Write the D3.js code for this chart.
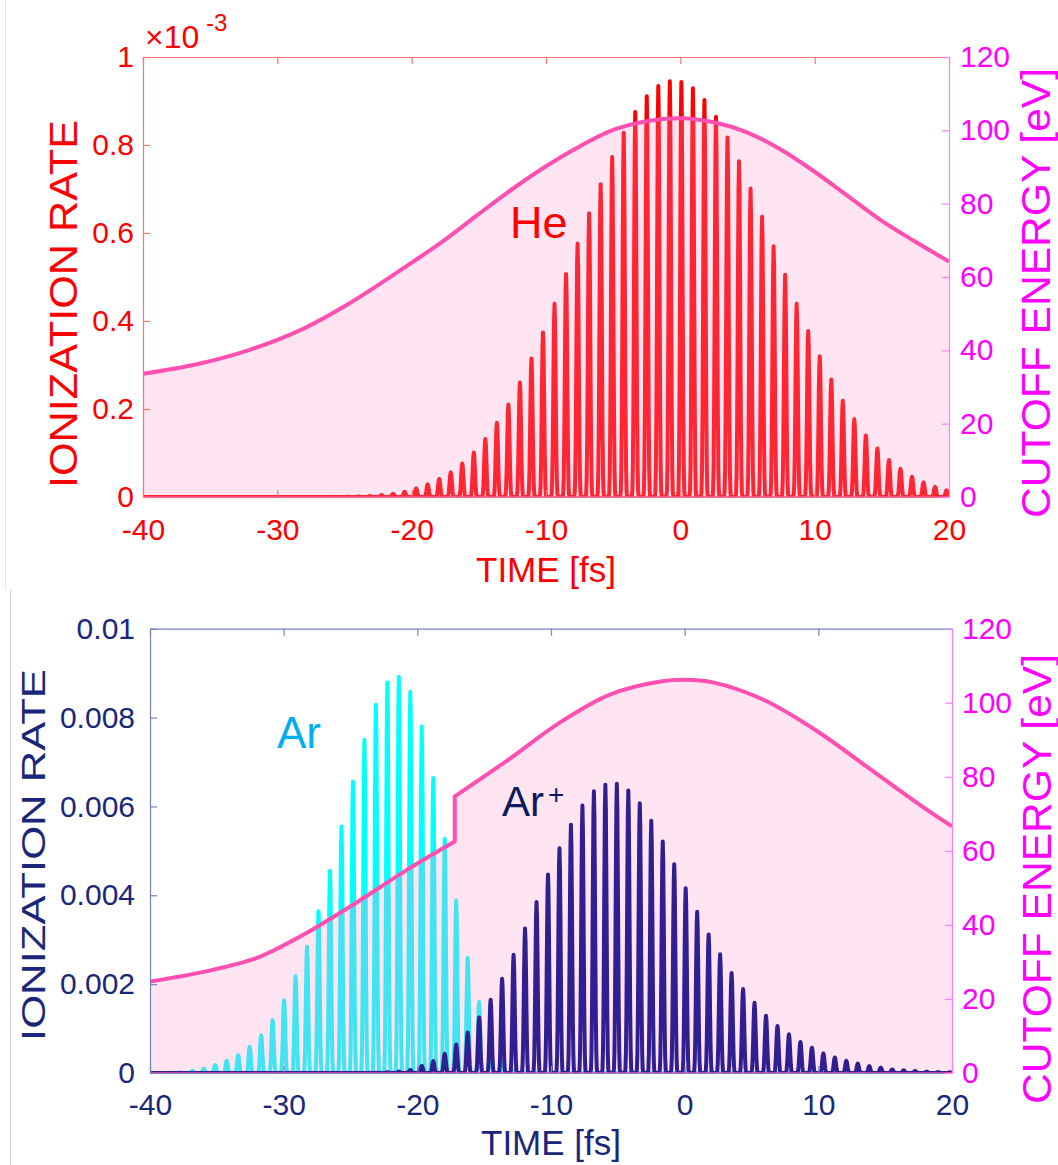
<!DOCTYPE html>
<html>
<head>
<meta charset="utf-8">
<script src="https://cdn.jsdelivr.net/npm/d3@7"></script>
<style>
  html, body { margin: 0; padding: 0; background: #fff; }
  svg { display: block; font-family: "Liberation Sans", Arial, Helvetica, sans-serif; }
</style>
</head>
<body>
<svg id="fig" width="1058" height="1165"></svg>
<script>
// ---------------------------------------------------------------
// Data
// ---------------------------------------------------------------
// One ionization burst per laser half-cycle: burst k peaks at
// firstPeakTime + k * halfCycle (fs).
const firstPeakTime = -39.41;
const halfCycle = 0.8584;

// He ionization-rate burst peaks, units of 1e-3
const heRate = [
  0, 0, 0, 0, 0, 0, 0, 0, 0, 0, 0, 0, 0, 0, 0, 0,
  0.0003, 0.0006, 0.0012, 0.0022, 0.0045, 0.0075, 0.012, 0.0196, 0.0287, 0.041,
  0.056, 0.076, 0.101, 0.132, 0.169, 0.210, 0.260, 0.315, 0.374, 0.439,
  0.507, 0.576, 0.645, 0.711, 0.773, 0.828, 0.875, 0.911, 0.934, 0.945,
  0.943, 0.929, 0.902, 0.864, 0.817, 0.763, 0.701, 0.637, 0.570, 0.505,
  0.439, 0.377, 0.320, 0.267, 0.219, 0.177, 0.140, 0.110, 0.084, 0.064,
  0.046, 0.033, 0.023, 0.015
];

// Ar (neutral) ionization-rate burst peaks, units of 1e-3
const arRate = [
  0.003, 0.006, 0.012, 0.05, 0.10, 0.18, 0.275, 0.40, 0.59, 0.85,
  1.19, 1.64, 2.18, 2.84, 3.64, 4.55, 5.55, 6.56, 7.50, 8.29,
  8.79, 8.92, 8.58, 7.80, 6.64, 5.27, 3.88, 2.59, 1.60, 0.70,
  0.25, 0.06, 0.015,
  0, 0, 0, 0, 0, 0, 0, 0, 0, 0, 0, 0, 0, 0, 0, 0, 0, 0, 0,
  0, 0, 0, 0, 0, 0, 0, 0, 0, 0, 0, 0, 0, 0, 0, 0, 0, 0
];

// Ar+ ionization-rate burst peaks, units of 1e-3
const arIonRate = [
  0, 0, 0, 0, 0, 0, 0, 0, 0, 0, 0, 0, 0, 0, 0, 0, 0, 0,
  0.003, 0.008, 0.018, 0.035, 0.07, 0.16, 0.27, 0.43, 0.64, 0.91,
  1.25, 1.65, 2.12, 2.66, 3.25, 3.85, 4.47, 5.06, 5.59, 6.02,
  6.34, 6.49, 6.51, 6.36, 6.07, 5.68, 5.21, 4.70, 4.16, 3.63,
  3.12, 2.67, 2.25, 1.89, 1.58, 1.29, 1.06, 0.87, 0.70, 0.57,
  0.44, 0.35, 0.275, 0.21, 0.155, 0.12, 0.08, 0.06, 0.045, 0.03,
  0.02, 0.015
];

// Harmonic cutoff energy (eV) for the He target
const heCutoffTime   = [-40, -36, -32, -28, -25, -22, -20, -17.5, -15, -12.5, -10, -7.5, -5, -2.5, 0, 2.5, 5, 7.5, 10, 12.5, 15, 17.5, 20];
const heCutoffEnergy = [33.6, 36.2, 40.2, 46.0, 52.0, 59.0, 63.9, 70.2, 77.2, 84.0, 90.2, 95.6, 100.1, 102.5, 103.3, 102.2, 99.4, 94.7, 88.7, 82.0, 75.3, 69.6, 64.2];

// Cutoff energy for the Ar target: neutral Ar until it is depleted, Ar+ afterwards
const arCutoffTime   = [-40, -36, -32, -28.5, -24.7, -20.9, -17.2];
const arCutoffEnergy = [24.7, 27.3, 31.1, 37.4, 45.7, 54.6, 62.5];
const arIonCutoffTime   = [-17.2, -13.2, -9.4, -5.6, -1.7, 0, 2.1, 5.9, 9.75, 13.6, 17.4, 20];
const arIonCutoffEnergy = [74.7, 84.6, 94.5, 102.2, 105.8, 106.2, 105.5, 100.8, 92.7, 82.8, 72.9, 66.6];

// Tick values
const timeTicks   = [-40, -30, -20, -10, 0, 10, 20];
const heRateTicks = [0, 0.2, 0.4, 0.6, 0.8, 1];       // units of 1e-3
const arRateTicks = [0, 2, 4, 6, 8, 10];             // units of 1e-3
const energyTicks = [0, 20, 40, 60, 80, 100, 120];

// ---------------------------------------------------------------
// Drawing
// ---------------------------------------------------------------
const svg = d3.select("#fig");
svg.append("rect").attr("width", 1058).attr("height", 1165).attr("fill", "#fff");

// faint borders of the two figure panels
svg.append("line").attr("x1", 5.5).attr("x2", 5.5).attr("y1", 0).attr("y2", 590)
  .attr("stroke", "#e2e2e2").attr("stroke-width", 1);
svg.append("line").attr("x1", 10.5).attr("x2", 10.5).attr("y1", 590).attr("y2", 1165)
  .attr("stroke", "#cfd0dc").attr("stroke-width", 1);

const CUT_LINE = "#ff4fb0";
const CUT_FILL = "rgba(255,149,204,0.255)";

// Sharp burst trace: each half-cycle carries one peak of height h.
function burstPoints(heights) {
  const pts = [[-40.5, 0]];
  const c = 10, n = 24;
  heights.forEach((h, k) => {
    const tc = firstPeakTime + k * halfCycle;
    for (let i = 0; i < n; i++) {
      const u = -0.5 + i / n;
      const cs = Math.cos(Math.PI * u);
      const f = cs < 1e-6 ? 0 : Math.exp(-c * (1 / cs - 1));
      pts.push([tc + u * halfCycle, h * f]);
    }
  });
  pts.push([firstPeakTime + (heights.length - 0.5) * halfCycle, 0]);
  pts.push([20.5, 0]);
  return pts;
}

function makePanel(cfg) {
  const g = svg.append("g").attr("transform", `translate(${cfg.left},${cfg.top})`);
  const x = d3.scaleLinear().domain([-40, 20]).range([0, cfg.width]);
  const y = d3.scaleLinear().domain(cfg.rateDomain).range([cfg.height, 0]);
  const yE = d3.scaleLinear().domain([0, 120]).range([cfg.height, 0]);

  const clipId = cfg.id + "-clip";
  g.append("clipPath").attr("id", clipId)
    .append("rect").attr("width", cfg.width).attr("height", cfg.height);
  const plot = g.append("g").attr("clip-path", `url(#${clipId})`);

  const trace = d3.line().x(d => x(d[0])).y(d => y(d[1]));
  const drawBursts = (heights, color) => {
    plot.append("path")
      .attr("d", trace(burstPoints(heights)))
      .attr("fill", "none")
      .attr("stroke", color)
      .attr("stroke-width", 4)
      .attr("stroke-linejoin", "round")
      .attr("stroke-linecap", "round");
  };

  // bursts lying beneath the translucent cutoff area
  cfg.under.forEach(s => drawBursts(s.values, s.color));

  // cutoff energy curve (possibly in several segments joined by a jump)
  const cutLine = d3.line().x(d => x(d[0])).y(d => yE(d[1])).curve(d3.curveCatmullRom.alpha(0.5));
  const segs = cfg.cutoff.map(s => s.time.map((t, i) => [t, s.energy[i]]));
  const cutPath = segs.map((s, i) => {
    const p = cutLine(s);
    return i ? p.replace(/^M/, "L") : p;
  }).join("");
  plot.append("path")
    .attr("d", cutPath + `L${x(20)},${yE(0)}L${x(-40)},${yE(0)}Z`)
    .attr("fill", CUT_FILL).attr("stroke", "none");

  // bursts drawn on top of the area
  cfg.over.forEach(s => drawBursts(s.values, s.color));

  plot.append("path")
    .attr("d", cutPath)
    .attr("fill", "none").attr("stroke", CUT_LINE)
    .attr("stroke-width", 4).attr("stroke-linejoin", "round");
  plot.append("line")
    .attr("x1", 0).attr("x2", cfg.width).attr("y1", cfg.height).attr("y2", cfg.height)
    .attr("stroke", CUT_LINE).attr("stroke-width", 1.6);

  // axes
  const styleAxis = (sel, lineColor, textColor) => {
    sel.select(".domain").attr("stroke", lineColor).attr("stroke-width", 1.2);
    sel.selectAll(".tick line").attr("stroke", lineColor).attr("stroke-width", 1.2);
    sel.selectAll(".tick text").attr("fill", textColor)
      .style("font-size", "30px")
      .style("font-family", '"Liberation Sans", Arial, Helvetica, sans-serif');
  };

  const tStr = d => String(d);
  const xb = g.append("g").attr("transform", `translate(0,${cfg.height})`)
    .call(d3.axisBottom(x).tickValues(timeTicks).tickSizeInner(-7).tickSizeOuter(0)
      .tickPadding(cfg.xPad).tickFormat(tStr));
  styleAxis(xb, cfg.frame, cfg.ink);
  const xt = g.append("g")
    .call(d3.axisTop(x).tickValues(timeTicks).tickSizeInner(-7).tickSizeOuter(0).tickFormat(""));
  styleAxis(xt, cfg.frame, cfg.ink);

  const yl = g.append("g")
    .call(d3.axisLeft(y).tickValues(cfg.rateTicks).tickSizeInner(-7).tickSizeOuter(0)
      .tickPadding(cfg.yPad).tickFormat(cfg.rateFormat));
  styleAxis(yl, cfg.frame, cfg.ink);

  const yr = g.append("g").attr("transform", `translate(${cfg.width},0)`)
    .call(d3.axisRight(yE).tickValues(energyTicks).tickSizeInner(-7).tickSizeOuter(0)
      .tickPadding(cfg.ePad).tickFormat(tStr));
  styleAxis(yr, "#ff80ff", "#ff00ff");

  return { g, x, y, yE };
}

// ---------------- He panel ----------------
const hePanel = makePanel({
  id: "he", left: 143, top: 57, width: 806, height: 440,
  rateDomain: [0, 1], rateTicks: heRateTicks, rateFormat: d => String(d),
  under: [{ values: heRate, color: "#ff0000" }],
  over: [],
  cutoff: [{ time: heCutoffTime, energy: heCutoffEnergy }],
  frame: "#ff7070", ink: "#ff0000",
  xPad: 21.5, yPad: 9, ePad: 11
});

// ---------------- Ar panel ----------------
const arPanel = makePanel({
  id: "ar", left: 150, top: 628.7, width: 802, height: 444.3,
  rateDomain: [0, 10], rateTicks: arRateTicks, rateFormat: d => d3.format("~g")(d / 1000),
  under: [{ values: arRate, color: "#00ffff" }],
  over: [{ values: arIonRate, color: "#301f90" }],
  cutoff: [
    { time: arCutoffTime, energy: arCutoffEnergy },
    { time: arIonCutoffTime, energy: arIonCutoffEnergy }
  ],
  frame: "#7480c4", ink: "#19277a",
  xPad: 20.5, yPad: 15, ePad: 10
});

// ---------------- text ----------------
const txt = (x, y, s, size, color, opts = {}) => {
  const t = svg.append("text").attr("x", x).attr("y", y).text(s)
    .attr("fill", color).style("font-size", size + "px")
    .attr("text-anchor", opts.anchor || "start");
  if (opts.len) t.attr("textLength", opts.len).attr("lengthAdjust", "spacingAndGlyphs");
  if (opts.rotate) t.attr("transform", `rotate(${opts.rotate},${x},${y})`);
  return t;
};

// exponent of the He rate axis
txt(145, 48, "\u00d710", 32, "#ff0000");
txt(206, 31, "-3", 24, "#ff0000");

// He panel titles
txt(77, 304, "IONIZATION RATE", 38, "#ff0000", { anchor: "middle", rotate: -90, len: 368 });
txt(1050, 293, "CUTOFF ENERGY [eV]", 40, "#ff00ff", { anchor: "middle", rotate: -90, len: 450 });
txt(546, 581.5, "TIME [fs]", 35, "#ff0000", { anchor: "middle" });
txt(510, 238, "He", 45, "#ff0000");

// Ar panel titles
txt(45, 855, "IONIZATION RATE", 33, "#19277a", { anchor: "middle", rotate: -90, len: 372 });
txt(1051, 879, "CUTOFF ENERGY [eV]", 40, "#ff00ff", { anchor: "middle", rotate: -90, len: 450 });
txt(551, 1155, "TIME [fs]", 35, "#19277a", { anchor: "middle" });
txt(277, 748, "Ar", 44, "#00aeef");
txt(502, 815.5, "Ar", 42, "#0c1a5c");
txt(548, 804, "+", 28, "#0c1a5c");
</script>
</body>
</html>
